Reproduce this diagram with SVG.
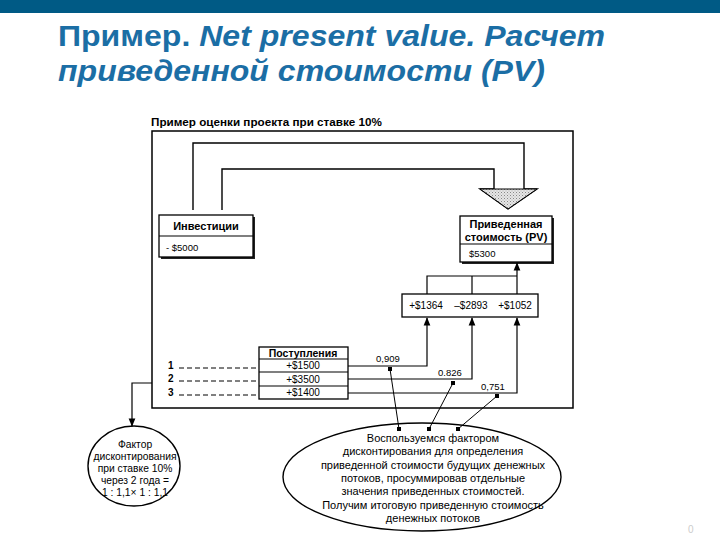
<svg xmlns="http://www.w3.org/2000/svg" width="720" height="540" viewBox="0 0 720 540">
<defs>
<style>
.t{font-family:"Liberation Sans",Arial,sans-serif;fill:#000}
.b{font-weight:bold}
.ln{fill:none;stroke:#000;stroke-width:1.2}
.bx{fill:#fff;stroke:#000;stroke-width:1.3}
.dash{fill:none;stroke:#000;stroke-width:1;stroke-dasharray:5 3}
.sh{fill:#222}
</style>
<marker id="ah" viewBox="0 0 10 10" refX="9" refY="5" markerWidth="7" markerHeight="7" orient="auto">
<path d="M0,1 L10,5 L0,9 Z" fill="#000"/>
</marker>
<marker id="sq" viewBox="0 0 4 4" refX="2" refY="2" markerWidth="4" markerHeight="4" markerUnits="userSpaceOnUse">
<rect width="4" height="4" fill="#000"/>
</marker>
<pattern id="dots" width="3" height="3" patternUnits="userSpaceOnUse">
<rect width="3" height="3" fill="#e6e6e6"/>
<rect x="0" y="0" width="1" height="1" fill="#888"/>
<rect x="1.5" y="1.5" width="1" height="1" fill="#aaa"/>
</pattern>
</defs>
<rect width="720" height="540" fill="#fff"/>
<rect x="0" y="0" width="720" height="13" fill="#005a85"/>
<g id="title" font-family="'Liberation Sans',Arial,sans-serif" font-weight="bold" font-size="29" fill="#1b6ea5">
<text x="58" y="46" textLength="547" lengthAdjust="spacingAndGlyphs">Пример. <tspan font-style="italic">Net present value. Расчет</tspan></text>
<text x="58" y="81" font-style="italic" textLength="487" lengthAdjust="spacingAndGlyphs">приведенной стоимости (PV)</text>
</g>
<text class="t b" x="151" y="126" font-size="10.5" textLength="231" lengthAdjust="spacingAndGlyphs">Пример оценки проекта при ставке 10%</text>
<g id="frame">
<rect x="152" y="131" width="421" height="277" fill="none" stroke="#000" stroke-width="1.5"/>
</g>
<g id="big-arrow">
<path d="M193,210 L193,143 L524,143 L524,189 L537,189 L508,209 L480,189 L494,189 L494,169 L222,169 L222,210" fill="none" stroke="#000" stroke-width="1.4"/>
<path d="M480,189 L537,189 L508,209 Z" fill="url(#dots)" stroke="#000" stroke-width="1"/>
</g>
<g id="investicii">
<rect x="161" y="217" width="94" height="42" class="sh"/>
<rect x="159" y="215" width="94" height="42" class="bx"/>
<line x1="159" y1="236" x2="253" y2="236" class="ln"/>
<text class="t b" x="206" y="230" font-size="11" text-anchor="middle">Инвестиции</text>
<text class="t" x="166" y="251" font-size="9.5">- $5000</text>
</g>
<g id="pv">
<rect x="462" y="218" width="92" height="46" class="sh"/>
<rect x="460" y="216" width="92" height="46" class="bx"/>
<line x1="460" y1="244" x2="552" y2="244" class="ln"/>
<text class="t b" x="506" y="228" font-size="11" text-anchor="middle">Приведенная</text>
<text class="t b" x="506" y="241" font-size="11" text-anchor="middle">стоимость (PV)</text>
<text class="t" x="469" y="257" font-size="9.5">$5300</text>
</g>
<g id="values">
<rect x="402" y="294" width="136" height="23" class="bx"/>
<text class="t" x="426" y="309" font-size="10" text-anchor="middle">+$1364</text>
<text class="t" x="471" y="309" font-size="10" text-anchor="middle">–$2893</text>
<text class="t" x="515" y="309" font-size="10" text-anchor="middle">+$1052</text>
</g>
<g id="postuplenia">
<rect x="259" y="347" width="89" height="52" class="bx"/>
<line x1="259" y1="359" x2="348" y2="359" class="ln"/>
<line x1="259" y1="372" x2="348" y2="372" class="ln"/>
<line x1="259" y1="386" x2="348" y2="386" class="ln"/>
<text class="t b" x="303" y="356.5" font-size="10.5" text-anchor="middle">Поступления</text>
<text class="t" x="303" y="369" font-size="10" text-anchor="middle">+$1500</text>
<text class="t" x="303" y="382.5" font-size="10" text-anchor="middle">+$3500</text>
<text class="t" x="303" y="396" font-size="10" text-anchor="middle">+$1400</text>
</g>
<g id="years">
<text class="t b" x="168" y="369" font-size="10">1</text>
<text class="t b" x="168" y="382" font-size="10">2</text>
<text class="t b" x="168" y="396" font-size="10">3</text>
<line x1="179" y1="368" x2="256" y2="368" class="dash"/>
<line x1="179" y1="381" x2="256" y2="381" class="dash"/>
<line x1="179" y1="395" x2="256" y2="395" class="dash"/>
</g>
<g id="factor-ellipse">
<ellipse cx="134" cy="466" rx="46" ry="40" fill="#fff" stroke="#000" stroke-width="1.4"/>
<g class="t" font-size="10.3" text-anchor="middle">
<text x="135" y="448">Фактор</text>
<text x="135" y="460">дисконтирования</text>
<text x="135" y="472">при ставке 10%</text>
<text x="135" y="484">через 2 года =</text>
<text x="135" y="496">1 : 1,1× 1 : 1,1</text>
</g>
</g>
<g id="note-ellipse">
<ellipse cx="422" cy="477" rx="139" ry="54" fill="#fff" stroke="#000" stroke-width="1.4"/>
<g class="t" font-size="11" text-anchor="middle">
<text x="433" y="442">Воспользуемся фактором</text>
<text x="433" y="455.3">дисконтирования для определения</text>
<text x="433" y="468.6">приведенной стоимости будущих денежных</text>
<text x="433" y="481.9">потоков, просуммировав отдельные</text>
<text x="433" y="495.2">значения приведенных стоимостей.</text>
<text x="433" y="508.5">Получим итоговую приведенную стоимость</text>
<text x="433" y="521.8">денежных потоков</text>
</g>
</g>
<g id="connectors">
<path d="M427,294 L427,276 L517,276" class="ln"/>
<line x1="472" y1="294" x2="472" y2="276" class="ln"/>
<line x1="517" y1="294" x2="517" y2="263" class="ln" marker-end="url(#ah)"/>
<path d="M348,366 L427,366 L427,318" class="ln" marker-end="url(#ah)"/>
<path d="M348,379 L472,379 L472,318" class="ln" marker-end="url(#ah)"/>
<path d="M348,393 L517,393 L517,318" class="ln" marker-end="url(#ah)"/>
<path d="M152,383 L132,383 L132,426" class="ln" marker-end="url(#ah)"/>
<line x1="390" y1="369" x2="399" y2="429" stroke="#000" stroke-width="1" marker-start="url(#sq)" marker-end="url(#sq)"/>
<line x1="453" y1="383" x2="429" y2="429" stroke="#000" stroke-width="1" marker-start="url(#sq)" marker-end="url(#sq)"/>
<line x1="497" y1="396" x2="458" y2="429" stroke="#000" stroke-width="1" marker-start="url(#sq)" marker-end="url(#sq)"/>
</g>
<g id="labels" class="t" font-size="9.5">
<text x="376" y="362">0,909</text>
<text x="438" y="376">0.826</text>
<text x="481" y="390">0,751</text>
</g>
<text x="688" y="533" font-family="'Liberation Sans',Arial,sans-serif" font-size="10" fill="#ccc">0</text>
</svg>
